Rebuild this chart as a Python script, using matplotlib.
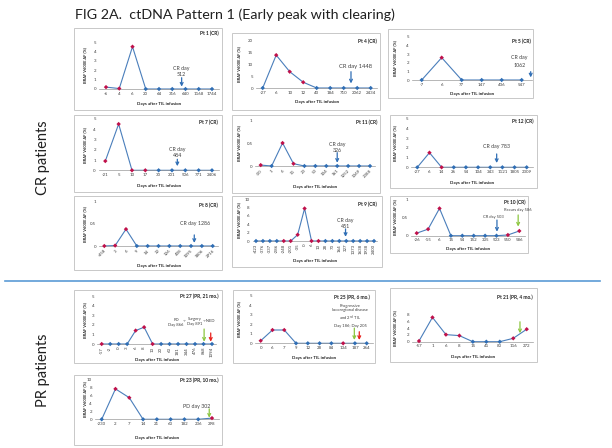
import matplotlib
matplotlib.use('Agg')
import matplotlib.pyplot as plt
from matplotlib.patches import Rectangle
from matplotlib.lines import Line2D

plt.rcParams['font.family'] = ['Lato', 'DejaVu Sans']

W, H = 612, 448
fig = plt.figure(figsize=(W / 100, H / 100), dpi=100)

LINE = '#4a7ebb'
BLUE = '#2f6eb5'
RED = '#c0104a'
GREEN = '#8cc63f'
ARED = '#e8201b'
TXT = '#404040'

# ---------------- data ----------------
pt1_days = ['-6', '4', '6', '20', '64', '316', '640', '1168', '1744']
pt1_af = [0.2, 0.05, 4.5, 0, 0, 0, 0, 0, 0]
pt1_pos = [1, 1, 1, 0, 0, 0, 0, 0, 0]

pt4_days = ['-27', '6', '10', '12', '40', '184', '710', '2062', '2434']
pt4_af = [0, 13.7, 6.8, 2.4, 0, 0, 0, 0, 0]
pt4_pos = [0, 1, 1, 1, 0, 0, 0, 0, 0]

pt5_days = ['-7', '6', '77', '147', '436', '547']
pt5_af = [0, 2.6, 0, 0, 0, 0]
pt5_pos = [0, 1, 0, 0, 0, 0]

pt7_days = ['-21', '5', '10', '17', '30', '201', '506', '771', '2406']
pt7_af = [0.9, 4.5, 0, 0, 0, 0, 0, 0, 0]
pt7_pos = [1, 1, 1, 1, 0, 0, 0, 0, 0]

pt11_days = ['-20', '1', '6', '11', '23', '53', '104', '161', '1252', '1369', '2388']
pt11_af = [0.02, 0, 0.5, 0.05, 0, 0, 0, 0, 0, 0, 0]
pt11_pos = [1, 0, 1, 1, 0, 0, 0, 0, 0, 0, 0]

pt12_days = ['-27', '6', '14', '26', '54', '104', '343', '1121', '1805', '2309']
pt12_af = [0, 1.5, 0, 0, 0, 0, 0, 0, 0, 0]
pt12_pos = [0, 1, 1, 0, 0, 0, 0, 0, 0, 0]

pt8_days = ['-458', '3', '6', '9', '14', '32', '126', '408', '1095', '1806', '2916']
pt8_af = [0, 0.01, 0.38, 0, 0, 0, 0, 0, 0, 0, 0]
pt8_pos = [1, 1, 1, 0, 0, 0, 0, 0, 0, 0, 0]

pt9_days = ['-423', '-376', '-337', '-286', '-248', '-201', '-35', '0', '6', '13',
            '28', '73', '164', '327', '1373', '1638', '1938', '2400']
pt9_af = [0, 0, 0, 0, 0, 0, 1.5, 7.8, 0, 0, 0, 0, 0, 0, 0, 0, 0, 0]
pt9_pos = [0, 0, 0, 0, 1, 1, 1, 1, 1, 1, 0, 0, 0, 0, 0, 0, 0, 0]

pt10_days = ['-26', '-15', '6', '15', '54', '152', '335', '503', '550', '586']
pt10_af = [0.07, 0.18, 0.75, 0, 0, 0, 0, 0, 0.02, 0.13]
pt10_pos = [1, 1, 1, 0, 0, 0, 0, 0, 1, 1]

pt27_days = ['-17', '-2', '0', '3', '6', '8', '13', '20', '63', '181', '344', '476', '868', '1094']
pt27_af = [0, 0, 0, 0, 1.4, 1.75, 0, 0, 0, 0, 0, 0, 0, 0]
pt27_pos = [1, 0, 0, 0, 1, 1, 1, 0, 0, 0, 0, 0, 0, 0]

pt25_days = ['0', '6', '7', '9', '12', '28', '84', '134', '187', '264']
pt25_af = [0.27, 1.4, 1.4, 0, 0, 0, 0, 0, 0, 0]
pt25_pos = [1, 1, 1, 0, 0, 0, 0, 1, 0, 0]

pt21_days = ['-57', '1', '6', '8', '15', '41', '83', '116', '272']
pt21_af = [0.2, 7.2, 2.1, 1.8, 0, 0, 0, 1.0, 3.7]
pt21_pos = [1, 1, 1, 1, 0, 0, 0, 1, 1]

pt23_days = ['-230', '2', '7', '14', '21', '63', '182', '236', '298']
pt23_af = [0, 7.6, 5.4, 0, 0, 0, 0, 0, 0.3]
pt23_pos = [0, 1, 1, 0, 0, 0, 0, 0, 1]

YLAB = 'BRAF V600E AF (%)'
XLAB = 'Days after TIL infusion'


def fy(y):
    return 1 - y / H


def panel(box, first, last, y0px, ytoppx, ymax, yticks, days, af, pos, title,
          ylab_x, xlab_y, title_xy, rot=0, ytl=None):
    bx0, by0, bx1, by1 = box
    rect = Rectangle((bx0 / W, fy(by1)), (bx1 - bx0) / W, (by1 - by0) / H,
                     transform=fig.transFigure, fc='white', ec='#c8c8c8',
                     lw=0.7, zorder=-10)
    fig.patches.append(rect)
    n = len(days)
    sp = (last - first) / (n - 1)
    a0, a1 = first - sp / 2, last + sp / 2
    ax = fig.add_axes([a0 / W, fy(y0px), (a1 - a0) / W, (y0px - ytoppx) / H])
    ax.set_zorder(1)
    ax.patch.set_alpha(0)
    ax.set_xlim(-0.5, n - 0.5)
    ax.set_ylim(0, ymax)
    for s in ['top', 'right', 'left']:
        ax.spines[s].set_visible(False)
    ax.spines['bottom'].set_color('#9a9a9a')
    ax.spines['bottom'].set_linewidth(0.5)
    ax.set_xticks(range(n))
    ha = 'center' if rot in (0, 90) else 'right'
    ax.set_xticklabels(days, fontsize=3.2, rotation=rot, ha=ha, color=TXT,
                       rotation_mode='anchor' if rot == 45 else 'default')
    ax.set_yticks(yticks)
    ax.set_yticklabels(ytl if ytl else [str(t) for t in yticks], fontsize=3.2, color=TXT)
    ax.tick_params(length=0, pad=2)
    xs = list(range(n))
    ax.plot(xs, af, color=LINE, lw=0.8, zorder=2, clip_on=False)
    cols = [RED if p else BLUE for p in pos]
    ax.scatter(xs, af, marker='D', s=5, c=cols, zorder=3, clip_on=False, linewidths=0)
    fig.text(ylab_x / W, fy((y0px + ytoppx) / 2), YLAB, rotation=90, fontsize=2.9,
             weight='bold', ha='center', va='center', color='#202020')
    fig.text(((a0 + a1) / 2) / W, fy(xlab_y), XLAB, fontsize=3.2, weight='bold',
             ha='center', va='center', color='#202020')
    fig.text(title_xy[0] / W, fy(title_xy[1]), title, fontsize=3.5, weight='bold',
             ha='right', va='center', color='#202020')
    return ax


def arrow(ax, x, y_from, y_to, color, lw=0.9):
    ax.annotate('', xy=(x, y_to), xytext=(x, y_from),
                arrowprops=dict(arrowstyle='->', color=color, lw=lw,
                                mutation_scale=5, shrinkA=0, shrinkB=0),
                annotation_clip=False)


def note(ax, x, y, s, fs=3.8, ls=1.3):
    ax.text(x, y, s, fontsize=fs, ha='center', va='center', color=TXT,
            linespacing=ls, clip_on=False)


# ---------------- title ----------------
fig.text(75 / W, fy(15), 'FIG 2A.  ctDNA Pattern 1 (Early peak with clearing)',
         fontsize=10.3, ha='left', va='center', color='#202020')
fig.text(43 / W, fy(158), 'CR patients', rotation=90, fontsize=10.5,
         ha='center', va='center', color='#202020')
fig.text(43 / W, fy(370), 'PR patients', rotation=90, fontsize=10.5,
         ha='center', va='center', color='#202020')
fig.lines.append(Line2D([5 / W, 600 / W], [fy(281), fy(281)], transform=fig.transFigure,
                        color='#5b9bd5', lw=1.2))

# ---------------- CR panels ----------------
ax = panel((74, 28, 222, 110), 106, 212, 89, 42, 5, [0, 1, 2, 3, 4, 5],
           pt1_days, pt1_af, pt1_pos, 'Pt 1 (CR)', 85, 104, (219, 33))
note(ax, 5.71, 1.85, 'CR day\n512')
arrow(ax, 5.71, 1.2, 0.25, BLUE)

ax = panel((232, 33, 380, 110), 262.7, 370.7, 88, 40, 20, [0, 5, 10, 15, 20],
           pt4_days, pt4_af, pt4_pos, 'Pt 4 (CR)', 239, 102, (377, 41))
note(ax, 6.85, 8.9, 'CR day 1448', fs=4.2)
arrow(ax, 6.54, 6.8, 1.9, BLUE)

ax = panel((388, 29, 533, 98), 421.7, 521.7, 80, 37, 5, [0, 1, 2, 3, 4, 5],
           pt5_days, pt5_af, pt5_pos, 'Pt 5 (CR)', 395, 94, (531, 41.7))
note(ax, 4.9, 2.15, 'CR day\n1062', ls=1.6)
arrow(ax, 5.45, 0.97, 0.3, BLUE)

ax = panel((74, 115, 222, 192), 105.3, 212, 170.3, 118.9, 5, [0, 1, 2, 3, 4, 5],
           pt7_days, pt7_af, pt7_pos, 'Pt 7 (CR)', 85, 185.7, (218, 122))
note(ax, 5.4, 1.75, 'CR day\n484')
arrow(ax, 5.4, 1.07, 0.4, BLUE)

ax = panel((232, 115, 380, 193), 260.7, 370, 166, 120, 1, [0, 0.5, 1],
           pt11_days, pt11_af, pt11_pos, 'Pt 11 (CR)', 239, 186.7, (377, 122.7), rot=45,
           ytl=['0', '0.5', '1'])
note(ax, 7.0, 0.41, 'CR day\n326')
arrow(ax, 7.0, 0.29, 0.07, BLUE)

ax = panel((390, 115, 537, 188), 417.3, 526.7, 167.3, 118.6, 5, [0, 1, 2, 3, 4, 5],
           pt12_days, pt12_af, pt12_pos, 'Pt 12 (CR)', 395, 182.7, (533, 121.7))
note(ax, 6.5, 2.1, 'CR day 783')
arrow(ax, 6.53, 1.37, 0.44, BLUE)

ax = panel((74, 196, 222, 270), 104.3, 212.7, 246, 201.7, 1, [0, 0.5, 1],
           pt8_days, pt8_af, pt8_pos, 'Pt 8 (CR)', 85, 266, (218, 205), rot=45,
           ytl=['0', '0.5', '1'])
note(ax, 8.4, 0.51, 'CR day 1286')
arrow(ax, 8.3, 0.25, 0.07, BLUE)

ax = panel((232, 196, 382, 267), 256, 374, 241, 199.3, 10, [0, 2, 4, 6, 8, 10],
           pt9_days, pt9_af, pt9_pos, 'Pt 9 (CR)', 239, 261, (377, 204), rot=90)
note(ax, 12.9, 4.2, 'CR day\n451')
arrow(ax, 12.9, 2.9, 1.0, BLUE)

ax = panel((390, 196, 528, 253), 416.7, 519.3, 235.7, 199.3, 1, [0, 0.5, 1],
           pt10_days, pt10_af, pt10_pos, 'Pt 10 (CR)', 395, 249.3, (525, 202),
           ytl=['0', '0.5', '1'])
note(ax, 6.7, 0.51, 'CR day 503', fs=3.0)
arrow(ax, 7.04, 0.43, 0.11, BLUE)
note(ax, 8.9, 0.71, 'Recurs day 586', fs=3.0)
arrow(ax, 8.9, 0.57, 0.25, GREEN)

# ---------------- PR panels ----------------
ax = panel((74, 290, 222, 363), 101.7, 212, 344, 296, 5, [0, 1, 2, 3, 4, 5],
           pt27_days, pt27_af, pt27_pos, 'Pt 27 (PR, 21 mo.)', 85, 360, (218, 296), rot=90)
note(ax, 8.75, 2.2, 'PD\nDay 866', fs=3.0)
note(ax, 9.75, 2.45, '->', fs=3.0)
note(ax, 11.0, 2.3, 'Surgery\nDay 891', fs=3.0)
note(ax, 12.6, 2.35, '->NED', fs=3.0)
arrow(ax, 12.07, 1.56, 0.24, GREEN)
arrow(ax, 12.85, 1.15, 0.24, ARED)

ax = panel((233, 290, 375, 363), 260.7, 366.7, 343.3, 295.8, 5, [0, 1, 2, 3, 4, 5],
           pt25_days, pt25_af, pt25_pos, 'Pt 25 (PR, 6 mo.)', 239, 358.3, (370, 297))
note(ax, 7.58, 2.9, 'Progressive\nlocoregional disease\nand 2$^{nd}$ TIL\nDay 186; Day 205',
     fs=3.0, ls=1.25)
arrow(ax, 7.95, 1.6, 0.35, GREEN)
arrow(ax, 8.37, 1.22, 0.35, ARED)

ax = panel((390, 288, 537, 362), 419, 526.7, 341.7, 314.7, 8, [0, 2, 4, 6, 8],
           pt21_days, pt21_af, pt21_pos, 'Pt 21 (PR, 4 mo.)', 395, 357, (533, 297))
arrow(ax, 7.5, 5.9, 2.5, GREEN)

ax = panel((74, 375, 222, 445), 101.7, 212, 419.3, 379.3, 10, [0, 2, 4, 6, 8, 10],
           pt23_days, pt23_af, pt23_pos, 'Pt 23 (PR, 10 mo.)', 85, 438, (218, 380))
note(ax, 6.9, 3.2, 'PD day 302', fs=3.8)
arrow(ax, 7.8, 2.6, 0.4, GREEN)

fig.savefig('out.png', dpi=100)
